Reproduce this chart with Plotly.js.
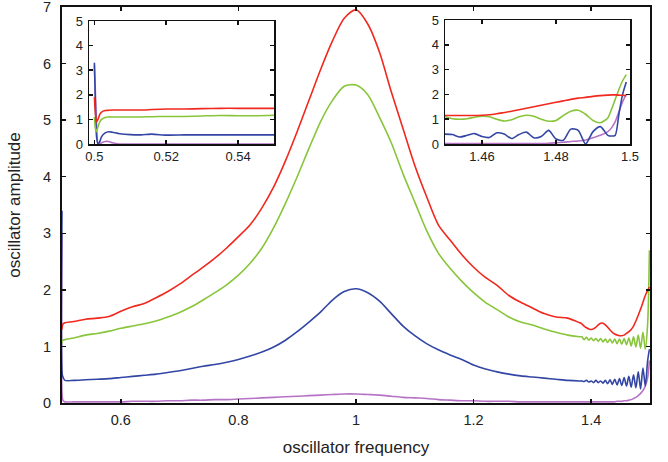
<!DOCTYPE html>
<html>
<head>
<meta charset="utf-8">
<script src="https://cdn.plot.ly/plotly-3.0.1.min.js"></script>
<style>html,body{margin:0;padding:0;background:#fff}#chart{width:668px;height:462px}</style>
</head>
<body>
<div id="chart"></div>
<script>
// ---- main plot data ----
const freqBody = [0.500,0.5005,0.502,0.505,0.52,0.54,0.56,0.58,0.60,0.62,0.64,0.66,0.68,0.70,0.72,0.74,0.76,0.78,0.80,0.82,0.84,0.86,0.88,0.90,0.92,0.94,0.96,0.98,1.00,1.02,1.04,1.06,1.08,1.10,1.12,1.14,1.16,1.18,1.20,1.22,1.24,1.26,1.28,1.30,1.32,1.34,1.36,1.38];
const redBody    = [1.30,1.36,1.40,1.42,1.44,1.48,1.50,1.53,1.62,1.70,1.76,1.86,1.97,2.10,2.25,2.40,2.56,2.74,2.94,3.15,3.45,3.82,4.28,4.80,5.35,5.90,6.40,6.80,6.95,6.70,6.20,5.50,4.85,4.20,3.65,3.15,2.88,2.62,2.40,2.22,2.08,1.90,1.78,1.68,1.58,1.52,1.50,1.42];
const greenBody  = [1.05,1.10,1.11,1.12,1.15,1.20,1.23,1.27,1.32,1.36,1.40,1.45,1.52,1.60,1.70,1.82,1.95,2.09,2.26,2.47,2.74,3.10,3.53,4.00,4.50,4.98,5.35,5.60,5.62,5.45,5.05,4.60,4.05,3.55,3.05,2.65,2.38,2.15,1.95,1.78,1.65,1.52,1.43,1.38,1.31,1.25,1.20,1.17];
const blueBody   = [3.40,0.50,0.45,0.40,0.40,0.41,0.42,0.43,0.45,0.47,0.49,0.51,0.54,0.57,0.61,0.65,0.68,0.72,0.77,0.83,0.90,0.99,1.11,1.26,1.43,1.61,1.82,1.97,2.02,1.95,1.80,1.58,1.36,1.19,1.05,0.94,0.85,0.77,0.67,0.60,0.55,0.51,0.48,0.46,0.44,0.42,0.40,0.39];
const purpleBody = [3.00,0.10,0.04,0.02,0.02,0.02,0.02,0.02,0.02,0.03,0.03,0.03,0.04,0.04,0.05,0.05,0.06,0.06,0.07,0.08,0.09,0.10,0.11,0.12,0.13,0.14,0.15,0.16,0.16,0.15,0.14,0.12,0.10,0.09,0.08,0.06,0.05,0.04,0.04,0.03,0.03,0.03,0.02,0.02,0.02,0.02,0.02,0.02];

const freqTail   = [1.384,1.388,1.392,1.396,1.400,1.404,1.408,1.412,1.416,1.420,1.424,1.428,1.432,1.436,1.440,1.444,1.448,1.452,1.456,1.460,1.464,1.468,1.472,1.476,1.480,1.484,1.488,1.492,1.496,1.499];
const redTail    = [1.40,1.36,1.33,1.31,1.30,1.31,1.34,1.38,1.41,1.41,1.38,1.34,1.29,1.25,1.22,1.20,1.19,1.19,1.20,1.23,1.26,1.30,1.36,1.45,1.55,1.66,1.78,1.90,1.99,2.05];
const greenTail  = [1.17,1.12,1.16,1.11,1.15,1.10,1.14,1.09,1.14,1.08,1.13,1.07,1.13,1.06,1.13,1.05,1.13,1.04,1.14,1.03,1.15,1.01,1.17,0.99,1.20,0.97,1.25,0.95,1.40,2.70];
const blueTail   = [0.39,0.38,0.40,0.37,0.39,0.36,0.40,0.36,0.39,0.35,0.40,0.34,0.41,0.33,0.42,0.32,0.43,0.31,0.45,0.30,0.47,0.28,0.50,0.27,0.55,0.25,0.62,0.30,0.75,0.95];
const purpleTail = [0.02,0.02,0.02,0.02,0.02,0.02,0.02,0.02,0.02,0.02,0.02,0.02,0.02,0.02,0.02,0.03,0.03,0.03,0.04,0.04,0.05,0.06,0.08,0.10,0.13,0.17,0.22,0.30,0.45,0.75];

// ---- left inset data ----
const insetLX      = [0.5,0.5003,0.5006,0.501,0.5015,0.502,0.503,0.504,0.505,0.507,0.51,0.513,0.516,0.52,0.525,0.53,0.535,0.54,0.545,0.55];
const insetLRed    = [1.9,1.2,0.9,1.0,1.2,1.3,1.36,1.37,1.38,1.38,1.38,1.38,1.40,1.42,1.42,1.44,1.45,1.45,1.45,1.45];
const insetLGreen  = [1.1,0.6,0.5,0.7,0.9,1.0,1.08,1.1,1.1,1.1,1.1,1.1,1.11,1.12,1.12,1.14,1.16,1.15,1.15,1.17];
const insetLBlue   = [3.3,1.5,0.3,0.0,0.1,0.3,0.45,0.5,0.48,0.42,0.38,0.37,0.40,0.36,0.37,0.37,0.37,0.37,0.37,0.37];
const insetLPurple = [3.2,2.0,0.8,0.0,0.0,0.05,0.1,0.1,0.05,0.0,0.0,0.0,0.0,0.0,0.0,0.0,0.0,0.0,0.0,0.0];

// ---- right inset data ----
const insetRX      = [1.45,1.452,1.454,1.456,1.458,1.46,1.462,1.464,1.466,1.468,1.47,1.472,1.474,1.476,1.478,1.48,1.482,1.484,1.486,1.488,1.49,1.492,1.494,1.495,1.496,1.497,1.498,1.499];
const insetRRed    = [1.15,1.15,1.15,1.15,1.15,1.16,1.18,1.22,1.27,1.32,1.38,1.44,1.50,1.56,1.62,1.68,1.74,1.80,1.85,1.88,1.92,1.95,1.97,1.98,1.98,1.97,1.96,1.95];
const insetRGreen  = [1.10,1.02,1.00,1.02,1.08,1.12,1.10,1.00,0.93,0.98,1.10,1.16,1.12,1.00,0.92,0.95,1.15,1.32,1.36,1.20,0.95,0.86,1.05,1.40,1.80,2.20,2.55,2.80];
const insetRBlue   = [0.40,0.38,0.28,0.35,0.42,0.30,0.26,0.45,0.40,0.22,0.38,0.48,0.25,0.30,0.55,0.20,0.15,0.60,0.55,0.00,0.50,0.70,0.35,0.32,0.35,1.20,2.00,2.50];
const insetRPurple = [0.02,0.02,0.02,0.02,0.02,0.02,0.02,0.02,0.02,0.02,0.02,0.02,0.02,0.02,0.03,0.05,0.07,0.10,0.12,0.16,0.25,0.35,0.50,0.65,0.90,1.30,1.70,2.00];

const mainXTicks = [0.6,0.8,1,1.2,1.4];
const mainYTicks = [0,1,2,3,4,5,6,7];
const insetYTicks = [0,1,2,3,4,5];
const insetLXTicks = [0.5,0.52,0.54];
const insetRXTicks = [1.46,1.48,1.5];

const C = {red:'#f0281e', green:'#88c53a', blue:'#3346a4', purple:'#b673c6'};
const W = 668, H = 462;
function fx(a,b){return [a/W,b/W];}
function fy(top,bot){return [1-bot/H,1-top/H];}

function tr(x,y,col,xa,ya,sm){
  return {x:x,y:y,type:'scatter',mode:'lines',line:{color:col,width:1.6,shape:'spline',smoothing:sm},xaxis:xa,yaxis:ya,hoverinfo:'skip',showlegend:false,cliponaxis:true};
}
const mx = freqBody.concat(freqTail);
const traces = [
  tr(mx, purpleBody.concat(purpleTail), C.purple,'x','y',0.8),
  tr(mx, blueBody.concat(blueTail), C.blue,'x','y',0.8),
  tr(mx, greenBody.concat(greenTail), C.green,'x','y',0.8),
  tr(mx, redBody.concat(redTail), C.red,'x','y',0.8),
  tr(insetLX, insetLPurple, C.purple,'x2','y2',0.5),
  tr(insetLX, insetLBlue, C.blue,'x2','y2',0.5),
  tr(insetLX, insetLGreen, C.green,'x2','y2',0.5),
  tr(insetLX, insetLRed, C.red,'x2','y2',0.5),
  tr(insetRX, insetRPurple, C.purple,'x3','y3',0.7),
  tr(insetRX, insetRBlue, C.blue,'x3','y3',0.7),
  tr(insetRX, insetRGreen, C.green,'x3','y3',0.7),
  tr(insetRX, insetRRed, C.red,'x3','y3',0.7)
];

const FAM = 'Liberation Sans, Arial, sans-serif';
const tickFont = {family:FAM, size:13, color:'#222'};
const mainTickFont = {family:FAM, size:14.5, color:'#222'};
function ax(extra){
  return Object.assign({showline:true, linecolor:'#111', linewidth:1.5, mirror:'ticks', ticks:'inside', ticklen:4, tickwidth:1.5, tickcolor:'#111', showgrid:false, zeroline:false, tickfont:tickFont, fixedrange:true, ticklabeloverflow:'allow'}, extra);
}

const layout = {
  width:W, height:H,
  margin:{l:0,r:0,t:0,b:0},
  paper_bgcolor:'#fff', plot_bgcolor:'#fff',
  showlegend:false,
  xaxis: ax({domain:fx(62,650), range:[0.5,1.5], tickvals:mainXTicks, ticktext:['0.6','0.8','1','1.2','1.4'], linewidth:2, anchor:'y', ticklabelstandoff:3, tickfont:mainTickFont,
    title:{text:'oscillator frequency', font:{family:FAM, size:17, color:'#222'}, standoff:14}}),
  yaxis: ax({domain:fy(7,403), range:[0,7], tickvals:mainYTicks, linewidth:2, anchor:'x', ticklabelstandoff:6, tickfont:mainTickFont,
    title:{text:'oscillator amplitude', font:{family:FAM, size:17, color:'#222'}, standoff:18}}),
  xaxis2: ax({domain:fx(89,274), range:[0.4985,0.55], tickvals:insetLXTicks, ticktext:['0.5','0.52','0.54'], anchor:'y2'}),
  yaxis2: ax({domain:fy(21,144), range:[0,5], tickvals:insetYTicks, anchor:'x2', ticklabelstandoff:2}),
  xaxis3: ax({domain:fx(445,630), range:[1.45,1.5], tickvals:insetRXTicks, ticktext:['1.46','1.48','1.5'], anchor:'y3'}),
  yaxis3: ax({domain:fy(20,144), range:[0,5], tickvals:insetYTicks, anchor:'x3', ticklabelstandoff:2})
};

Plotly.newPlot('chart', traces, layout, {staticPlot:true, displayModeBar:false});
</script>
</body>
</html>
